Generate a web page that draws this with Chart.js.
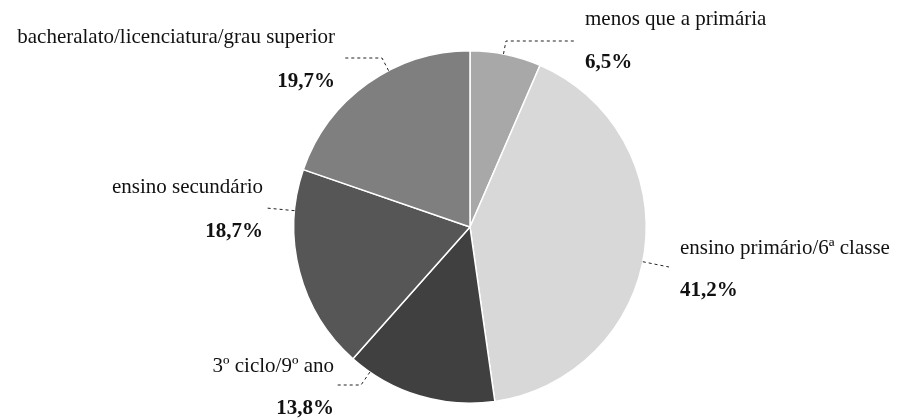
<!DOCTYPE html>
<html>
<head>
<meta charset="utf-8">
<title>Escolaridade</title>
<script src="https://cdn.jsdelivr.net/npm/chart.js@4.4.1/dist/chart.umd.min.js"></script>
<style>
    html, body { margin: 0; padding: 0; background: #ffffff; }
    #wrap { width: 900px; height: 420px; position: relative; }
</style>
</head>
<body>
<div id="wrap"><canvas id="pieChart"></canvas></div>
<script>
// Chart data
const categories = [
    'menos que a primária',
    'ensino primário/6ª classe',
    '3º ciclo/9º ano',
    'ensino secundário',
    'bacheralato/licenciatura/grau superior'
];
const percentValues = [6.5, 41.2, 13.8, 18.7, 19.7];
const percentLabels = ['6,5%', '41,2%', '13,8%', '18,7%', '19,7%'];
const sliceColors = ['#a8a8a8', '#d8d8d8', '#404040', '#565656', '#7f7f7f'];

// Label placement, relative to the pie centre
const labelLayout = [
    { align: 'left',  x: 115,  nameY: -202, pctY: -159, leader: [[36, -186], [105, -186]] },
    { align: 'left',  x: 210,  nameY: 27,   pctY: 69,   leader: [[199, 40]] },
    { align: 'right', x: -136, nameY: 145,  pctY: 187,  leader: [[-109, 158], [-135, 158]] },
    { align: 'right', x: -207, nameY: -34,  pctY: 10,   leader: [[-204, -19]] },
    { align: 'right', x: -135, nameY: -184, pctY: -140, leader: [[-88, -169], [-125, -169]] }
];

// Edge point of an arc in the direction of (dx, dy), kept inside the slice
function edgePoint(arc, dx, dy) {
    const props = arc.getProps(['x', 'y', 'startAngle', 'endAngle', 'outerRadius'], true);
    let a = Math.atan2(dy, dx);
    while (a < props.startAngle) a += Math.PI * 2;
    while (a > props.startAngle + Math.PI * 2) a -= Math.PI * 2;
    if (a > props.endAngle) {
        const toEnd = a - props.endAngle;
        const toStart = props.startAngle + Math.PI * 2 - a;
        a = toEnd < toStart ? props.endAngle - 0.02 : props.startAngle + 0.02;
    }
    return {
        x: props.x + Math.cos(a) * props.outerRadius,
        y: props.y + Math.sin(a) * props.outerRadius,
        cx: props.x,
        cy: props.y
    };
}

// Draws names, percentages and dashed leader lines
const outsideLabels = {
    id: 'outsideLabels',
    afterDatasetsDraw(chart) {
        const ctx = chart.ctx;
        const arcs = chart.getDatasetMeta(0).data;
        ctx.save();
        arcs.forEach((arc, i) => {
            const lay = labelLayout[i];
            const first = lay.leader[0];
            const start = edgePoint(arc, first[0], first[1]);
            const cx = start.cx;
            const cy = start.cy;

            ctx.beginPath();
            ctx.setLineDash([3, 3]);
            ctx.strokeStyle = '#222222';
            ctx.lineWidth = 1;
            ctx.moveTo(start.x, start.y);
            lay.leader.forEach(p => ctx.lineTo(cx + p[0], cy + p[1]));
            ctx.stroke();
            ctx.setLineDash([]);

            ctx.fillStyle = '#111111';
            ctx.textAlign = lay.align;
            ctx.textBaseline = 'alphabetic';
            ctx.font = '21px "Liberation Serif", "Times New Roman", serif';
            ctx.fillText(categories[i], cx + lay.x, cy + lay.nameY);
            ctx.font = 'bold 21px "Liberation Serif", "Times New Roman", serif';
            ctx.fillText(percentLabels[i], cx + lay.x, cy + lay.pctY);
        });
        ctx.restore();
    }
};

const ctx = document.getElementById('pieChart').getContext('2d');
const pieChart = new Chart(ctx, {
    type: 'pie',
    data: {
        labels: categories,
        datasets: [{
            data: percentValues,
            backgroundColor: sliceColors,
            borderColor: '#ffffff',
            borderWidth: 1.5
        }]
    },
    options: {
        responsive: true,
        maintainAspectRatio: false,
        animation: false,
        events: [],
        layout: {
            padding: {
                top: 50,
                bottom: 16,
                left: 293,
                right: 253
            }
        },
        plugins: {
            legend: { display: false },
            tooltip: { enabled: false }
        }
    },
    plugins: [outsideLabels]
});
</script>
</body>
</html>
